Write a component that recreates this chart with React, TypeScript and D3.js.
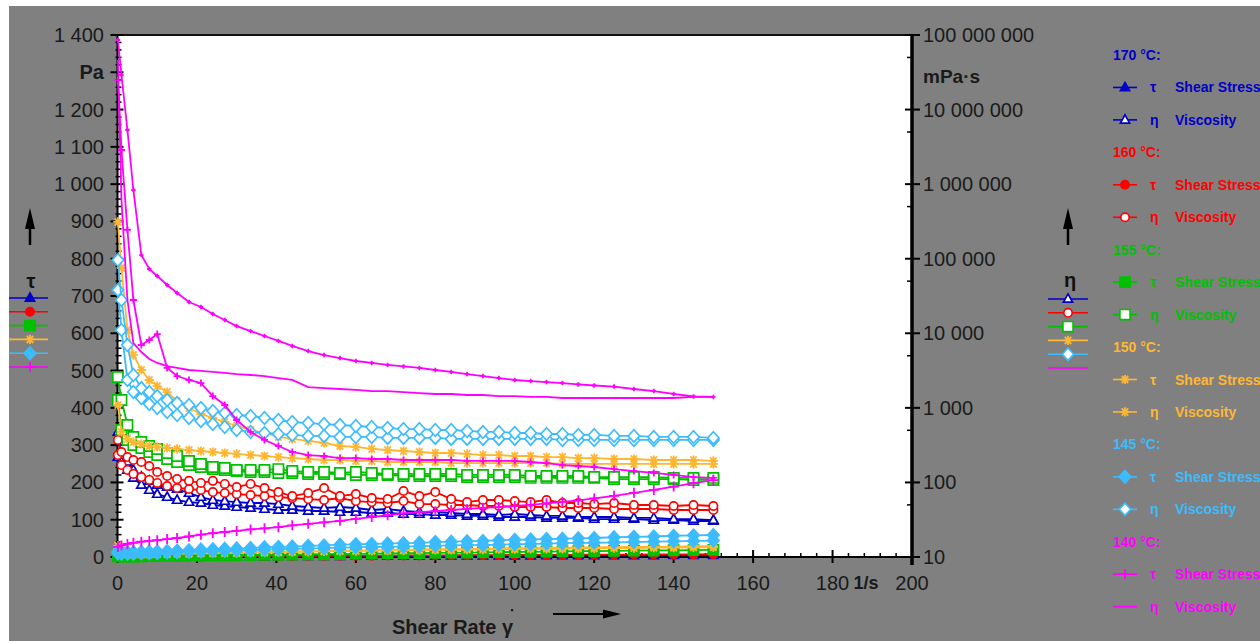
import React from 'react';
import * as d3 from 'd3';

// shear rate, 1/s
const shearRate = [0.1, 1, 2.5, 4, 6, 8, 10, 12.5, 15, 18, 21, 24, 27, 30, 33.5, 37, 40.5, 44, 48, 52, 56, 60, 64, 68, 72, 76, 80, 84, 88, 92, 96, 100, 104, 108, 112, 116, 120, 125, 130, 135, 140, 145, 150];

// viscosity, mPa·s (right log axis)
const eta170a = [475, 233, 188, 147, 118, 105, 92.4, 86.8, 81.6, 72.1, 63.7, 58.1, 56.3, 54.6, 53, 53, 51.3, 48.3, 46.8, 45.4, 46.8, 45.4, 42.7, 44, 41.4, 40.1, 40.1, 38.9, 37.7, 37.7, 36.6, 37.7, 36.6, 35.5, 35.5, 34.4, 34.4, 34.4, 33.4, 33.4, 32.3, 32.3, 31.3];
const eta170b = [219, 188, 147, 115, 92.4, 79.1, 69.9, 63.7, 58.1, 54.6, 53, 49.8, 48.3, 46.8, 45.4, 44, 42.7, 42.7, 41.4, 41.4, 40.1, 40.1, 38.9, 38.9, 37.7, 37.7, 36.6, 36.6, 35.5, 35.5, 34.4, 34.4, 34.4, 33.4, 33.4, 33.4, 32.3, 32.3, 32.3, 31.3, 31.3, 30.4, 30.4];
const eta160a = [371, 256, 219, 200, 188, 166, 138, 122, 111, 105, 98.4, 105, 95.4, 86.8, 95.4, 84.2, 74.3, 65.7, 72.1, 84.2, 65.7, 69.9, 61.8, 59.9, 76.7, 65.7, 74.3, 59.9, 54.6, 58.1, 58.1, 56.3, 54.6, 58.1, 53, 53, 51.3, 53, 49.8, 49.8, 48.3, 49.8, 48.3];
const eta160b = [233, 171, 147, 130, 118, 108, 98.4, 89.6, 84.2, 81.6, 79.1, 74.3, 72.1, 69.9, 67.8, 65.7, 63.7, 61.8, 59.9, 58.1, 61.8, 56.3, 54.6, 53, 56.3, 51.3, 51.3, 49.8, 49.8, 48.3, 48.3, 46.8, 46.8, 46.8, 45.4, 45.4, 45.4, 44, 44, 44, 42.7, 42.7, 42.7];
const eta155a = [2590, 1274, 589, 407, 349, 308, 281, 248, 226, 194, 177, 161, 156, 147, 147, 147, 151, 142, 138, 138, 134, 138, 134, 130, 130, 130, 130, 130, 126, 126, 126, 126, 122, 122, 122, 122, 118, 118, 118, 118, 115, 115, 115];
const eta155b = [1274, 505, 371, 318, 290, 256, 233, 206, 188, 171, 161, 151, 147, 142, 138, 138, 134, 134, 130, 130, 130, 126, 126, 126, 122, 122, 122, 122, 118, 118, 118, 118, 115, 115, 115, 115, 115, 111, 111, 111, 111, 108, 108];
const eta150a = [311000, 75100, 11070, 5110, 3220, 2365, 1960, 1630, 1236, 995, 827, 731, 646, 571, 505, 460, 407, 383, 360, 338, 308, 299, 281, 272, 264, 256, 248, 248, 241, 233, 233, 226, 226, 219, 219, 212, 212, 206, 206, 200, 200, 200, 194];
const eta150b = [1092, 475, 383, 349, 328, 308, 299, 290, 281, 272, 264, 256, 248, 241, 233, 226, 219, 212, 206, 200, 200, 194, 194, 188, 188, 188, 188, 182, 182, 182, 182, 182, 182, 182, 177, 177, 177, 177, 177, 177, 177, 177, 177];
const eta145a = [96100, 27930, 6970, 2760, 1840, 1630, 1440, 1274, 1162, 1092, 995, 907, 853, 802, 778, 731, 687, 646, 626, 607, 589, 571, 554, 537, 520, 520, 505, 505, 490, 475, 475, 460, 460, 446, 446, 433, 433, 420, 420, 407, 407, 407, 395];
const eta145b = [38020, 11070, 2365, 1630, 1355, 1125, 995, 880, 802, 731, 666, 607, 554, 505, 475, 460, 446, 433, 420, 420, 407, 407, 407, 395, 395, 395, 395, 383, 383, 383, 383, 383, 383, 383, 371, 371, 371, 371, 371, 371, 371, 371, 371];
const eta140a = [8.57e7, 2.91e7, 5.32e6, 8.35e5, 1.12e5, 72800, 58600, 44400, 34700, 26300, 22500, 18100, 15100, 12500, 10700, 9200, 7890, 6760, 5780, 5110, 4660, 4250, 4000, 3760, 3590, 3430, 3220, 3030, 2840, 2670, 2510, 2365, 2290, 2220, 2150, 2060, 1995, 1930, 1790, 1680, 1535, 1420, 1400];
const eta140b = [4.62e7, 6.12e5, 27930, 7410, 5610, 4520, 4000, 3640, 3430, 3220, 3130, 3030, 2940, 2840, 2760, 2670, 2510, 2365, 1900, 1840, 1790, 1737, 1680, 1680, 1630, 1580, 1535, 1535, 1487, 1487, 1440, 1440, 1400, 1400, 1355, 1355, 1355, 1355, 1355, 1355, 1355, 1400, 1400];
const eta140c = [2.49e7, 2.87e6, 2.43e5, 27930, 6970, 8130, 9770, 3430, 2670, 2365, 2150, 1440, 1092, 687, 475, 371, 308, 256, 233, 226, 212, 212, 206, 206, 200, 200, 200, 200, 194, 194, 194, 194, 188, 182, 171, 166, 161, 151, 142, 134, 126, 118, 115];

// shear stress, Pa (left linear axis)
const tau170 = [0.1, 0.2, 0.4, 0.5, 0.6, 0.7, 0.8, 1, 1.1, 1.2, 1.3, 1.5, 1.4, 1.6, 1.8, 1.8, 2, 2.1, 2.3, 2.4, 2.5, 2.7, 2.8, 2.9, 3.1, 3.1, 3.2, 3.3, 3.5, 3.5, 3.6, 3.7, 3.8, 4, 4, 4.1, 4.2, 4.3, 4.4, 4.5, 4.6, 4.7, 4.8];
const tau160 = [0.5, 0.4, 0.6, 0.7, 0.9, 1, 1.1, 1.3, 1.4, 1.6, 1.8, 2, 2.1, 2.2, 2.5, 2.6, 2.7, 2.9, 3.2, 3.2, 3.4, 3.6, 3.7, 3.9, 4.1, 4.2, 4.4, 4.6, 4.8, 5, 5.2, 5.4, 5.6, 5.7, 5.8, 6.1, 6.2, 6.4, 6.6, 6.8, 7, 7.2, 7.4];
const tau155 = [2, 1, 1, 1.5, 2, 2.5, 3, 3.2, 3.5, 3.8, 4, 4.3, 4.5, 4.8, 5.2, 5.6, 6, 6.4, 7, 7.5, 8, 8.4, 9, 9.6, 10, 10.5, 11, 11.6, 12, 12.5, 13, 13.6, 14, 14.5, 15, 15.6, 16, 16.5, 17, 17.6, 18, 18.5, 19];
const tau150a = [30, 18, 12, 10, 9, 9, 9, 9, 10, 10, 11, 11, 12, 12, 13, 14, 14, 15, 16, 16, 17, 18, 18, 19, 19, 20, 21, 21, 22, 22, 23, 24, 24, 25, 25, 26, 26, 27, 27, 28, 28, 29, 29];
const tau150b = [22, 12, 8, 7, 7, 7, 8, 8, 9, 9, 10, 10, 11, 11, 12, 12, 13, 14, 14, 15, 16, 16, 17, 17, 18, 18, 19, 19, 20, 20, 21, 21, 22, 22, 22, 23, 23, 24, 24, 25, 25, 26, 26];
const tau145a = [15, 14, 13, 13, 14, 14, 15, 16, 17, 18, 20, 21, 22, 23, 24, 26, 27, 28, 30, 31, 33, 34, 35, 36, 37, 38, 40, 41, 42, 43, 45, 46, 47, 48, 49, 50, 51, 53, 54, 55, 57, 58, 59];
const tau145b = [10, 9, 9, 9, 10, 10, 11, 12, 13, 14, 15, 16, 17, 18, 19, 20, 21, 22, 23, 24, 25, 26, 27, 27, 28, 29, 30, 31, 32, 32, 33, 34, 35, 36, 37, 38, 38, 39, 40, 41, 42, 43, 44];
const tau140 = [27, 31, 35, 38, 41, 43, 45, 48, 51, 55, 60, 64, 67, 70, 74, 77, 80, 85, 89, 93, 97, 102, 107, 112, 117, 120, 123, 126, 129, 132, 134, 137, 140, 144, 148, 152, 157, 164, 172, 180, 189, 198, 206];

const temps = ['170 °C:', '160 °C:', '155 °C:', '150 °C:', '145 °C:', '140 °C:'];
const colors = ['#0000c8', '#ff0000', '#00c000', '#ffb733', '#3cbcff', '#ff00ff'];
const markers = ['triangle', 'circle', 'square', 'asterisk', 'diamond', 'plus'];

const tauTicks = d3.range(0, 1401, 100);
const etaTicks = [10, 100, 1000, 1e4, 1e5, 1e6, 1e7, 1e8];
const xTicks = d3.range(0, 201, 20);

const FONT = 'Liberation Sans, Arial, sans-serif';
const plot = { left: 117.5, right: 912, top: 35, bottom: 557 };

const x = d3.scaleLinear().domain([0, 200]).range([plot.left, plot.right]);
const yTau = d3.scaleLinear().domain([0, 1400]).range([plot.bottom, plot.top]);
const yEta = d3.scaleLog().domain([10, 1e8]).range([plot.bottom, plot.top]);

const fmt = (v: number) => d3.format(',')(v).replace(/,/g, ' ');

type Series = { values: number[]; axis: 'tau' | 'eta'; color: string; marker: string | null; filled: boolean; size?: number };

// draw order: later on top
const series: Series[] = [
  { values: eta170b, axis: 'eta', color: colors[0], marker: 'triangle', filled: false },
  { values: eta170a, axis: 'eta', color: colors[0], marker: 'triangle', filled: false },
  { values: tau170, axis: 'tau', color: colors[0], marker: 'triangle', filled: true },
  { values: eta160b, axis: 'eta', color: colors[1], marker: 'circle', filled: false },
  { values: eta160a, axis: 'eta', color: colors[1], marker: 'circle', filled: false },
  { values: tau160, axis: 'tau', color: colors[1], marker: 'circle', filled: true },
  { values: eta155b, axis: 'eta', color: colors[2], marker: 'square', filled: false },
  { values: eta155a, axis: 'eta', color: colors[2], marker: 'square', filled: false },
  { values: tau155, axis: 'tau', color: colors[2], marker: 'square', filled: true },
  { values: eta150b, axis: 'eta', color: colors[3], marker: 'asterisk', filled: false },
  { values: eta150a, axis: 'eta', color: colors[3], marker: 'asterisk', filled: false },
  { values: tau150b, axis: 'tau', color: colors[3], marker: 'asterisk', filled: true },
  { values: tau150a, axis: 'tau', color: colors[3], marker: 'asterisk', filled: true },
  { values: eta145b, axis: 'eta', color: colors[4], marker: 'diamond', filled: false },
  { values: eta145a, axis: 'eta', color: colors[4], marker: 'diamond', filled: false },
  { values: tau145b, axis: 'tau', color: colors[4], marker: 'diamond', filled: true },
  { values: tau145a, axis: 'tau', color: colors[4], marker: 'diamond', filled: true },
  { values: eta140c, axis: 'eta', color: colors[5], marker: 'plus', filled: true, size: 3.5 },
  { values: eta140b, axis: 'eta', color: colors[5], marker: null, filled: false },
  { values: eta140a, axis: 'eta', color: colors[5], marker: 'plus', filled: true, size: 2.2 },
  { values: tau140, axis: 'tau', color: colors[5], marker: 'plus', filled: true },
];

function markerPath(kind: string, s: number) {
  switch (kind) {
    case 'triangle':
      return `M0,${-s * 1.1}L${s},${s * 0.7}L${-s},${s * 0.7}Z`;
    case 'square':
      return `M${-s},${-s}H${s}V${s}H${-s}Z`;
    case 'diamond':
      return `M0,${-s * 1.2}L${s * 1.1},0L0,${s * 1.2}L${-s * 1.1},0Z`;
    case 'asterisk':
      return `M${-s},0H${s}M${-s * 0.7},${-s * 0.8}L${s * 0.7},${s * 0.8}M${-s * 0.7},${s * 0.8}L${s * 0.7},${-s * 0.8}M0,${-s}V${s}`;
    case 'plus':
      return `M${-s},0H${s}M0,${-s}V${s}`;
    default:
      return '';
  }
}

const Marker: React.FC<{ kind: string; filled: boolean; color: string; cx: number; cy: number; size?: number }> = ({ kind, filled, color, cx, cy, size }) => {
  if (kind === 'circle') {
    return <circle cx={cx} cy={cy} r={size ?? 4.2} fill={filled ? color : '#fff'} stroke={color} strokeWidth={1.7} />;
  }
  const s = size ?? (kind === 'square' ? 5.1 : kind === 'diamond' ? 5.2 : kind === 'plus' ? 5 : 4.6);
  const strokeOnly = kind === 'asterisk' || kind === 'plus';
  return (
    <path
      d={markerPath(kind, s)}
      transform={`translate(${cx},${cy})`}
      fill={strokeOnly ? 'none' : filled ? color : '#fff'}
      stroke={color}
      strokeWidth={strokeOnly ? 1.8 : 1.7}
    />
  );
};

const UpArrow: React.FC<{ cx: number }> = ({ cx }) => (
  <g>
    <line x1={cx} x2={cx} y1={245} y2={222} stroke="#000" strokeWidth={2.5} />
    <path d={`M${cx},208L${cx + 5},229L${cx - 5},229Z`} fill="#000" />
  </g>
);

const App: React.FC = () => {
  const line = (s: Series) =>
    d3
      .line<number>()
      .x((_, i) => x(shearRate[i]))
      .y((v) => (s.axis === 'eta' ? yEta(v) : yTau(v)))(s.values) || '';

  const minorTau = d3.range(0, 1401, 20).filter((v) => v % 100 !== 0);
  const minorX = d3.range(0, 201, 4).filter((v) => v % 20 !== 0);
  const minorEta = [50, 500, 5000, 5e4, 5e5, 5e6, 5e7];
  const rowStep = 32.45;

  return (
    <svg width={1260} height={641} style={{ position: 'absolute', left: 0, top: 0 }} fontFamily={FONT}>
      <rect x={0} y={0} width={1260} height={641} fill="#fff" />
      <rect x={9} y={6} width={1251} height={635} fill="#808080" />
      <rect x={plot.left} y={plot.top} width={plot.right - plot.left} height={plot.bottom - plot.top} fill="#fff" />

      {/* frame and axes */}
      <line x1={plot.left - 6} x2={plot.right} y1={plot.top} y2={plot.top} stroke="#111" strokeWidth={2} />
      <line x1={plot.left} x2={plot.left} y1={plot.top} y2={plot.bottom} stroke="#000" strokeWidth={2} />
      <line x1={plot.left} x2={plot.right} y1={plot.bottom} y2={plot.bottom} stroke="#000" strokeWidth={2} />
      <line x1={plot.right} x2={plot.right} y1={plot.top} y2={plot.bottom + 8} stroke="#000" strokeWidth={3.5} />

      {tauTicks.map((t) => (
        <g key={'tt' + t}>
          <line x1={plot.left - 7} x2={plot.left + 6} y1={yTau(t)} y2={yTau(t)} stroke="#000" strokeWidth={2} />
          <text x={104} y={yTau(t)} textAnchor="end" dominantBaseline="central" fontSize={20} fill="#1a1a1a" fontWeight={t === 1300 ? 'bold' : 'normal'}>
            {t === 1300 ? 'Pa' : fmt(t)}
          </text>
        </g>
      ))}
      {minorTau.map((t) => (
        <line key={'mt' + t} x1={plot.left - 2} x2={plot.left + 4} y1={yTau(t)} y2={yTau(t)} stroke="#000" strokeWidth={1.5} />
      ))}

      {xTicks.map((t) => (
        <g key={'xt' + t}>
          <line x1={x(t)} x2={x(t)} y1={plot.bottom - 7} y2={plot.bottom + 6} stroke="#000" strokeWidth={2} />
          <text x={x(t)} y={583} textAnchor="middle" dominantBaseline="central" fontSize={20} fill="#1a1a1a">
            {t}
          </text>
        </g>
      ))}
      <text x={866} y={583} textAnchor="middle" dominantBaseline="central" fontSize={18} fontWeight="bold" fill="#1a1a1a">
        1/s
      </text>
      {minorX.map((t) => (
        <line key={'mx' + t} x1={x(t)} x2={x(t)} y1={plot.bottom - 4} y2={plot.bottom} stroke="#000" strokeWidth={1.5} />
      ))}

      {etaTicks.map((t) => (
        <g key={'et' + t}>
          <line x1={plot.right - 7} x2={plot.right + 8} y1={yEta(t)} y2={yEta(t)} stroke="#000" strokeWidth={2} />
          <text x={923} y={yEta(t)} dominantBaseline="central" fontSize={20} fill="#1a1a1a">
            {fmt(t)}
          </text>
        </g>
      ))}
      {minorEta.map((t) => (
        <line key={'me' + t} x1={plot.right - 5} x2={plot.right} y1={yEta(t)} y2={yEta(t)} stroke="#000" strokeWidth={1.5} />
      ))}
      <text x={923} y={76} dominantBaseline="central" fontSize={19} fontWeight="bold" fill="#1a1a1a">
        mPa·s
      </text>

      {/* data */}
      {series.map((s, si) => (
        <g key={'s' + si}>
          <path d={line(s)} fill="none" stroke={s.color} strokeWidth={1.8} />
          {s.marker &&
            s.values.map((v, i) => (
              <Marker
                key={i}
                kind={s.marker as string}
                filled={s.filled}
                color={s.color}
                size={s.size}
                cx={x(shearRate[i])}
                cy={s.axis === 'eta' ? yEta(v) : yTau(v)}
              />
            ))}
        </g>
      ))}

      {/* axis titles */}
      <UpArrow cx={30} />
      <text x={31} y={281} textAnchor="middle" dominantBaseline="central" fontSize={20} fontWeight="bold" fill="#111">
        τ
      </text>
      <UpArrow cx={1068} />
      <text x={1070} y={280} textAnchor="middle" dominantBaseline="central" fontSize={20} fontWeight="bold" fill="#111">
        η
      </text>
      <text x={392} y={627} dominantBaseline="central" fontSize={20} fontWeight="bold" fill="#1a1a1a">
        Shear Rate γ
      </text>
      <rect x={511} y={609} width={2.2} height={2.2} fill="#1a1a1a" />
      <line x1={553} x2={606} y1={614} y2={614} stroke="#000" strokeWidth={2} />
      <path d="M603,609.5L621,614L603,618.5Z" fill="#000" />

      {/* axis legends */}
      {colors.map((c, i) => {
        const y = 298 + i * 13.8;
        return (
          <g key={'la' + i}>
            <line x1={9} x2={48} y1={y} y2={y} stroke={c} strokeWidth={1.6} />
            <Marker kind={markers[i]} filled={true} color={c} cx={30} cy={y} />
            <line x1={1048} x2={1088} y1={y + 1} y2={y + 1} stroke={c} strokeWidth={1.6} />
            {i < 5 && <Marker kind={markers[i]} filled={false} color={c} cx={1068} cy={y + 1} />}
          </g>
        );
      })}

      {/* series legend */}
      {temps.map((t, i) => {
        const y0 = 55 + i * 3 * rowStep;
        const c = colors[i];
        return (
          <g key={'lg' + i} fontSize={14} fontWeight="bold" fill={c}>
            <text x={1113} y={y0} dominantBaseline="central">{t}</text>
            <line x1={1113} x2={1137} y1={y0 + rowStep} y2={y0 + rowStep} stroke={c} strokeWidth={1.6} />
            <Marker kind={markers[i]} filled={true} color={c} cx={1125} cy={y0 + rowStep} />
            <text x={1150} y={y0 + rowStep} dominantBaseline="central">τ</text>
            <text x={1175} y={y0 + rowStep} dominantBaseline="central">Shear Stress</text>
            <line x1={1113} x2={1137} y1={y0 + 2 * rowStep} y2={y0 + 2 * rowStep} stroke={c} strokeWidth={1.6} />
            {i < 5 && <Marker kind={markers[i]} filled={false} color={c} cx={1125} cy={y0 + 2 * rowStep} />}
            <text x={1150} y={y0 + 2 * rowStep} dominantBaseline="central">η</text>
            <text x={1175} y={y0 + 2 * rowStep} dominantBaseline="central">Viscosity</text>
          </g>
        );
      })}
    </svg>
  );
};

export default App;
